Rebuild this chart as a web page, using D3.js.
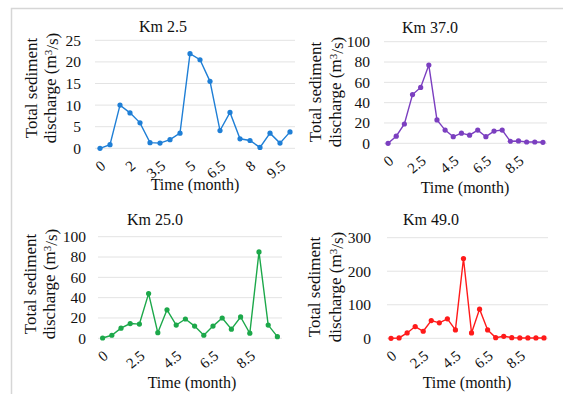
<!DOCTYPE html>
<html>
<head>
<meta charset="utf-8">
<script src="https://cdn.jsdelivr.net/npm/d3@7"></script>
<style>
  body { margin: 0; background: #fff; }
  text { font-family: "Liberation Serif", "Times New Roman", serif; fill: #111; }
</style>
</head>
<body>
<div id="chart"></div>
<script>
const width = 563, height = 394;

// months along the category axis (20 samples)
const months = ['0', '1', '1.5', '2', '2.5', '3', '3.5', '4', '4.5', '5', '5.5', '6', '6.5', '7', '7.5', '8', '8.5', '9', '9.5', '10'];

const km2_5 = [0, 0.85, 10, 8.2, 5.9, 1.3, 1.2, 2.0, 3.5, 21.9, 20.5, 15.5, 4.1, 8.3, 2.2, 1.8, 0.2, 3.5, 1.2, 3.8];
const km37 = [0, 7, 19, 48, 55, 77, 23, 13, 6.5, 10, 8, 13, 6.5, 12, 13, 2, 2.3, 1.3, 1.3, 1];
const km25 = [0.3, 3, 10, 14.5, 14, 44, 5.5, 28, 13, 19, 12, 3, 12, 20, 9, 21, 5, 85, 13, 1.6];
const km49 = [0, 1, 16, 35, 21, 53, 46, 58, 25, 238, 16, 87, 25, 2, 6, 2, 1, 1, 1, 1];

const yTicks1 = [0, 5, 10, 15, 20, 25];
const yTicks2 = [0, 20, 40, 60, 80, 100];
const yTicks4 = [0, 100, 200, 300];

const labelsEvery3 = ['0', '2', '3.5', '5', '6.5', '8', '9.5'];
const labelsEvery4 = ['0', '2.5', '4.5', '6.5', '8.5'];

const svg = d3.select('#chart').append('svg')
  .attr('width', width)
  .attr('height', height);

// outer frame
svg.append('path')
  .attr('d', `M11.5,${height} V8.5 H${width}`)
  .attr('fill', 'none')
  .attr('stroke', '#d6d6d6')
  .attr('stroke-width', 1.5);

const panels = [
  { title: 'Km 2.5', data: km2_5, ticks: yTicks1, labels: labelsEvery3, color: '#1f7fd6',
    x0: 95, x1: 295, y0: 148.3, y1: 40.3, titleX: 163, titleY: 32, tickX: 81, t1X: 31, t2X: 50, labY: 88, timeX: 195, timeY: 190 },
  { title: 'Km 37.0', data: km37, ticks: yTicks2, labels: labelsEvery4, color: '#7b3fc0',
    x0: 384, x1: 547, y0: 143.3, y1: 41.7, titleX: 430, titleY: 33, tickX: 370, t1X: 315, t2X: 335, labY: 92, timeX: 465, timeY: 193 },
  { title: 'Km 25.0', data: km25, ticks: yTicks2, labels: labelsEvery4, color: '#1ca84a',
    x0: 98, x1: 282, y0: 338.3, y1: 236.7, titleX: 155, titleY: 225, tickX: 86, t1X: 30, t2X: 49, labY: 284, timeX: 192, timeY: 388 },
  { title: 'Km 49.0', data: km49, ticks: yTicks4, labels: labelsEvery4, color: '#ff1a1a',
    x0: 387, x1: 548, y0: 338.3, y1: 237.7, titleX: 431, titleY: 225, tickX: 371, t1X: 314, t2X: 335, labY: 287, timeX: 467, timeY: 388 }
];

panels.forEach((p) => {
  const g = svg.append('g');
  const yMax = p.ticks[p.ticks.length - 1];

  const x = d3.scaleBand().domain(months).range([p.x0, p.x1]);
  const y = d3.scaleLinear().domain([0, yMax]).range([p.y0, p.y1]);

  // gridlines
  g.selectAll('line.grid')
    .data(p.ticks)
    .join('line')
      .attr('class', 'grid')
      .attr('x1', p.x0).attr('x2', p.x1)
      .attr('y1', (d) => y(d)).attr('y2', (d) => y(d))
      .attr('stroke', '#e3e3e3')
      .attr('stroke-width', 1);

  // y tick labels
  g.selectAll('text.ytick')
    .data(p.ticks)
    .join('text')
      .attr('class', 'ytick')
      .attr('x', p.tickX)
      .attr('y', (d) => y(d))
      .attr('dy', '0.35em')
      .attr('text-anchor', 'end')
      .style('font-size', '15.5px')
      .text((d) => d);

  // x tick labels, rotated
  const step = p.labels === labelsEvery3 ? 3 : 4;
  g.selectAll('text.xtick')
    .data(p.labels)
    .join('text')
      .attr('class', 'xtick')
      .attr('transform', (d, i) => {
        const cx = x(months[i * step]) + x.bandwidth() / 2 + 3;
        return `translate(${cx},${p.y0 + 15}) rotate(-40)`;
      })
      .attr('text-anchor', 'end')
      .attr('dy', '0.35em')
      .style('font-size', '15px')
      .text((d) => d);

  // title
  g.append('text')
    .attr('x', p.titleX).attr('y', p.titleY)
    .attr('text-anchor', 'middle')
    .style('font-size', '16px')
    .text(p.title);

  // y axis title (two lines)
  g.append('text')
    .attr('transform', `translate(${p.t1X},${p.labY}) rotate(-90)`)
    .attr('text-anchor', 'middle')
    .attr('dy', '0.35em')
    .style('font-size', '17px')
    .text('Total sediment');
  const t2 = g.append('text')
    .attr('transform', `translate(${p.t2X},${p.labY}) rotate(-90)`)
    .attr('text-anchor', 'middle')
    .attr('dy', '0.35em')
    .style('font-size', '17px');
  t2.append('tspan').text('discharge (m');
  t2.append('tspan').attr('dy', '-0.4em').style('font-size', '11px').text('3');
  t2.append('tspan').attr('dy', '0.4em').text('/s)');

  // x axis title
  g.append('text')
    .attr('x', p.timeX).attr('y', p.timeY)
    .attr('text-anchor', 'middle')
    .style('font-size', '16px')
    .text('Time (month)');

  // line + markers
  const line = d3.line()
    .x((d, i) => x(months[i]) + x.bandwidth() / 2)
    .y((d) => y(d));

  g.append('path')
    .datum(p.data)
    .attr('d', line)
    .attr('fill', 'none')
    .attr('stroke', p.color)
    .attr('stroke-width', 1.4);

  g.selectAll('circle')
    .data(p.data)
    .join('circle')
      .attr('cx', (d, i) => x(months[i]) + x.bandwidth() / 2)
      .attr('cy', (d) => y(d))
      .attr('r', 2.6)
      .attr('fill', p.color);
});
</script>
</body>
</html>
